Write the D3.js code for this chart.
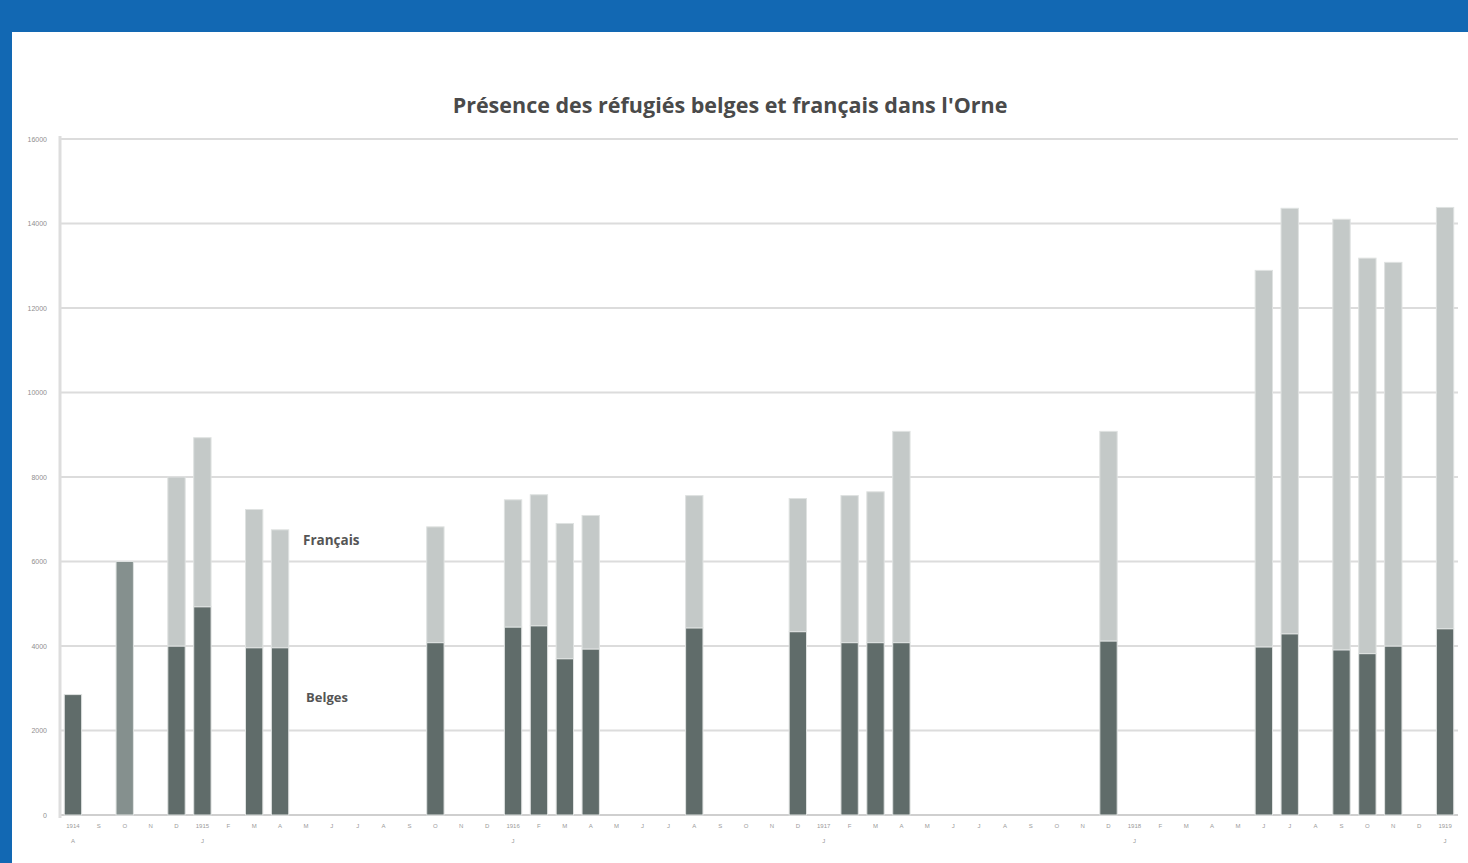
<!DOCTYPE html>
<html>
<head>
	<meta charset="utf-8">
	<title>Réfugiés Orne</title>
	<script src="https://cdn.jsdelivr.net/npm/d3@7"></script>
	<style>
		body { margin: 0; background: #fff; }
	</style>
</head>
<body>
<script>
// months Aug 1914 -> Jan 1919 (initiales francaises)
var moisInit = ["J","F","M","A","M","J","J","A","S","O","N","D"];
var mois = [];
for (var k = 7; k < 7 + 54; k++) {
	mois.push({ annee: 1914 + Math.floor(k / 12), m: moisInit[k % 12], idx: k - 7 });
}
var yTicks = [0, 2000, 4000, 6000, 8000, 10000, 12000, 14000, 16000];

// values (index = month from Aug 1914)
var belges = {0: 2850, 4: 4000, 5: 4930, 7: 3960, 8: 3960, 14: 4080, 17: 4450, 18: 4480,
	19: 3700, 20: 3930, 24: 4430, 28: 4340, 30: 4080, 31: 4080, 32: 4080, 40: 4120,
	46: 3980, 47: 4290, 49: 3910, 50: 3820, 51: 4000, 53: 4410};
var francais = {4: 4000, 5: 4000, 7: 3270, 8: 2790, 14: 2740, 17: 3010, 18: 3100,
	19: 3200, 20: 3160, 24: 3130, 28: 3150, 30: 3480, 31: 3570, 32: 5000, 40: 4960,
	46: 8910, 47: 10070, 49: 10190, 50: 9360, 51: 9080, 53: 9970};
var nonVentile = {2: 6000};

var W = 1468, H = 863;
var svg = d3.select("body").append("svg")
	.attr("width", W).attr("height", H);

svg.append("rect").attr("width", W).attr("height", H).attr("fill", "#1268b3");
svg.append("rect").attr("x", 12).attr("y", 32).attr("width", W - 12).attr("height", H - 32).attr("fill", "#fff");

var x = d3.scaleBand().domain(d3.range(54)).range([60, 1458]).paddingInner(0.33).paddingOuter(0.165);
var y = d3.scaleLinear().domain([0, 16000]).range([815, 139]);

// grid
svg.selectAll("line.grid").data(yTicks).enter().append("line")
	.attr("x1", 60).attr("x2", 1458)
	.attr("y1", function(d){ return y(d); }).attr("y2", function(d){ return y(d); })
	.attr("stroke", function(d){ return d == 0 ? "#cfcfcf" : "#dcdcdc"; })
	.attr("stroke-width", 2);
svg.append("line").attr("x1", 60).attr("x2", 60).attr("y1", 136).attr("y2", 818)
	.attr("stroke", "#dddddd").attr("stroke-width", 3);

svg.selectAll("text.ytick").data(yTicks).enter().append("text")
	.attr("x", 47).attr("y", function(d){ return y(d) + 2.5; })
	.attr("text-anchor", "end")
	.attr("font-family", "Liberation Sans, Arial, sans-serif")
	.attr("font-size", 7).attr("fill", "#8f8f8f")
	.text(function(d){ return d; });

function draw(obj, base, color) {
	var keys = Object.keys(obj).map(Number);
	svg.selectAll(null).data(keys).enter().append("rect")
		.attr("x", function(d){ return x(d); })
		.attr("width", x.bandwidth())
		.attr("y", function(d){ return y((base[d] || 0) + obj[d]); })
		.attr("height", function(d){ return y(base[d] || 0) - y((base[d] || 0) + obj[d]); })
		.attr("fill", color)
		.attr("stroke", "#dfe2e1").attr("stroke-width", 1);
}
draw(belges, {}, "#606c6a");
draw(nonVentile, {}, "#85908e");
draw(francais, belges, "#c4c9c8");

// x labels
var lab = svg.append("g").attr("font-family", "Liberation Sans, Arial, sans-serif")
	.attr("font-size", 6).attr("fill", "#9a9a9a").attr("text-anchor", "middle");
lab.selectAll("text.m").data(mois).enter().append("text")
	.attr("x", function(d){ return x(d.idx) + x.bandwidth() / 2; })
	.attr("y", 828)
	.text(function(d){ return d.idx == 0 || d.idx % 12 == 5 ? d.annee : d.m; });
lab.selectAll("text.m2").data(mois.filter(function(d){ return d.idx == 0 || d.idx % 12 == 5; })).enter().append("text")
	.attr("x", function(d){ return x(d.idx) + x.bandwidth() / 2; })
	.attr("y", 843)
	.text(function(d){ return d.m; });

svg.append("text").attr("x", 730).attr("y", 113)
	.attr("text-anchor", "middle")
	.attr("font-family", "Open Sans, Liberation Sans, sans-serif")
	.attr("font-weight", "bold").attr("font-size", 21.5).attr("fill", "#4a4a4a")
	.text("Présence des réfugiés belges et français dans l'Orne");

svg.append("text").attr("x", 303).attr("y", 545)
	.attr("font-family", "Open Sans, Liberation Sans, sans-serif")
	.attr("font-weight", "bold").attr("font-size", 13.5).attr("fill", "#555")
	.text("Français");
svg.append("text").attr("x", 306).attr("y", 702)
	.attr("font-family", "Open Sans, Liberation Sans, sans-serif")
	.attr("font-weight", "bold").attr("font-size", 13).attr("fill", "#555")
	.text("Belges");
</script>
</body>
</html>
